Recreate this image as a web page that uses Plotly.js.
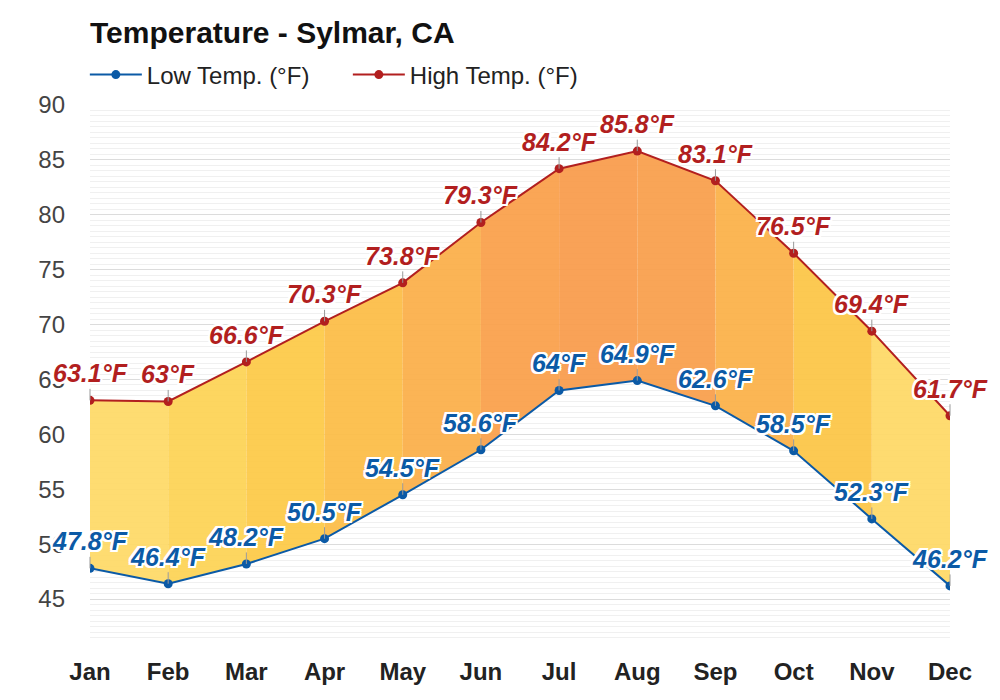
<!DOCTYPE html>
<html>
<head>
<meta charset="utf-8">
<script src="https://cdn.plot.ly/plotly-3.0.1.min.js"></script>
<style>
html,body{margin:0;padding:0;background:#fff;}
#chart{width:1000px;height:700px;}
</style>
</head>
<body>
<div id="chart"></div>
<script>
var months = ["Jan","Feb","Mar","Apr","May","Jun","Jul","Aug","Sep","Oct","Nov","Dec"];
var lowTemps = [47.8, 46.4, 48.2, 50.5, 54.5, 58.6, 64.0, 64.9, 62.6, 58.5, 52.3, 46.2];
var highTemps = [63.1, 63.0, 66.6, 70.3, 73.8, 79.3, 84.2, 85.8, 83.1, 76.5, 69.4, 61.7];
var bandColors = ["#fed966","#fdd354","#fdc946","#fcbc45","#fbae48","#fa9f49","#f99b4a","#f99e4a","#fbb047","#fcc545","#fed865"];

var FONT = "Liberation Sans, Arial, sans-serif";
var LOW_COLOR = "#0b5aa6";
var HIGH_COLOR = "#b21f1f";

var xs = months.map(function(m,i){return i;});
var traces = [];

for (var i = 0; i < months.length - 1; i++) {
  traces.push({
    x: [xs[i], xs[i+1], xs[i+1], xs[i], xs[i]],
    y: [lowTemps[i], lowTemps[i+1], highTemps[i+1], highTemps[i], lowTemps[i]],
    mode: "lines",
    fill: "toself",
    fillcolor: bandColors[i],
    opacity: 0.93,
    line: {width: 0},
    hoverinfo: "skip",
    showlegend: false
  });
}

traces.push({
  x: xs, y: lowTemps, name: "Low Temp. (°F)",
  mode: "lines+markers",
  line: {color: LOW_COLOR, width: 2},
  marker: {color: LOW_COLOR, size: 9}
});
traces.push({
  x: xs, y: highTemps, name: "High Temp. (°F)",
  mode: "lines+markers",
  line: {color: HIGH_COLOR, width: 2},
  marker: {color: HIGH_COLOR, size: 9}
});

var outline = "2px 0 0 #fff, -2px 0 0 #fff, 0 2px 0 #fff, 0 -2px 0 #fff, 2px 2px 0 #fff, -2px -2px 0 #fff, 2px -2px 0 #fff, -2px 2px 0 #fff";
function fmt(v){ return (Math.round(v*10)/10).toString() + "°F"; }
var annotations = [];
function addLabels(vals, color){
  vals.forEach(function(v,i){
    annotations.push({
      x: xs[i], y: v, xref: "x", yref: "y",
      text: fmt(v),
      showarrow: true, arrowhead: 0, arrowwidth: 1, arrowcolor: "#999",
      ax: 0, ay: -27, standoff: 0,
      font: {family: FONT, size: 25, color: color, weight: "bold", style: "italic", shadow: outline}
    });
  });
}
addLabels(lowTemps, LOW_COLOR);
addLabels(highTemps, HIGH_COLOR);

var layout = {
  width: 1000, height: 700,
  margin: {l: 90, r: 50, t: 105, b: 57},
  paper_bgcolor: "#fff", plot_bgcolor: "#fff",
  font: {family: FONT},
  title: {
    text: "Temperature - Sylmar, CA",
    font: {family: FONT, size: 30, color: "#111", weight: "bold"},
    x: 0.09, xanchor: "left", xref: "container",
    y: 1 - 32/700, yanchor: "middle", yref: "container"
  },
  showlegend: true,
  legend: {
    orientation: "h", x: -0.006, xanchor: "left",
    y: 1 + 30/538, yanchor: "middle",
    font: {family: FONT, size: 24, color: "#222"},
    itemwidth: 52, entrywidth: 196, entrywidthmode: "pixels", tracegroupgap: 0
  },
  xaxis: {
    range: [0, 11], tickvals: xs, ticktext: months,
    showgrid: false, zeroline: false, showline: false, ticks: "",
    tickfont: {family: FONT, size: 24, color: "#222", weight: "bold"},
    ticklabelstandoff: 12, fixedrange: true
  },
  yaxis: {
    range: [41, 90], tick0: 45, dtick: 5,
    showgrid: true, gridcolor: "#dcdcdc", gridwidth: 1,
    zeroline: false, showline: false, ticks: "",
    tickfont: {family: FONT, size: 24, color: "#444"},
    ticklabelstandoff: 24,
    minor: {dtick: 0.5, tick0: 41, showgrid: true, gridcolor: "#f0f0f0", gridwidth: 1, ticks: ""},
    fixedrange: true
  },
  annotations: annotations
};

Plotly.newPlot("chart", traces, layout, {displayModeBar: false, staticPlot: true});
</script>
</body>
</html>
